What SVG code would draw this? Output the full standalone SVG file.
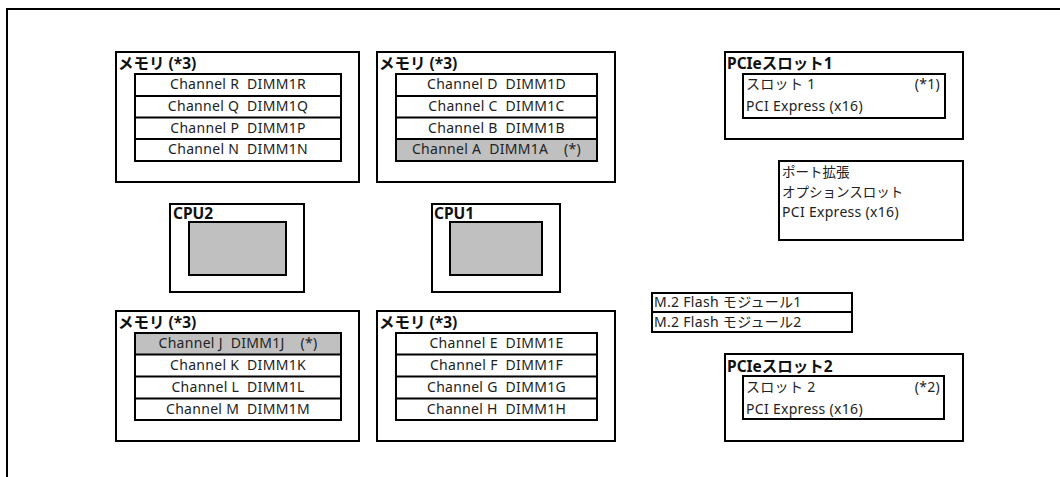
<svg xmlns="http://www.w3.org/2000/svg" width="1060" height="477" viewBox="0 0 1060 477">
  <style>
    text { font-family: "Noto Sans", "Noto Sans CJK JP", sans-serif; font-size: 14px; letter-spacing: 0.3px; fill: #222; }
    .b { font-weight: bold; font-size: 15.5px; letter-spacing: 0; fill: #111; }
    .j { font-size: 13.5px; letter-spacing: 0; }
    .c { text-anchor: middle; }
    .e { text-anchor: end; }
    .box { fill: #fff; stroke: #000; stroke-width: 2; }
    .gray { fill: #c0c0c0; stroke: #000; stroke-width: 2; }
    .ln { stroke: #000; stroke-width: 2; fill: none; }
  </style>
  <rect width="1060" height="477" fill="#fff"/>
  <path class="ln" d="M7,477 V9 H1060"/>

  <g id="mem-tl">
    <rect class="box" x="116" y="52" width="243" height="130"/>
    <text class="b" x="118" y="69">メモリ (*3)</text>
    <rect class="box" x="135" y="74" width="206" height="87"/>
    <path class="ln" d="M135,96 H341 M135,117.5 H341 M135,139 H341"/>
    <text class="c" x="238" y="89" xml:space="preserve">Channel R  DIMM1R</text>
    <text class="c" x="238" y="111" xml:space="preserve">Channel Q  DIMM1Q</text>
    <text class="c" x="238" y="132.5" xml:space="preserve">Channel P  DIMM1P</text>
    <text class="c" x="238" y="154" xml:space="preserve">Channel N  DIMM1N</text>
  </g>

  <g id="mem-tm">
    <rect class="box" x="377" y="52" width="238" height="130"/>
    <text class="b" x="379" y="69">メモリ (*3)</text>
    <rect class="box" x="396" y="74" width="201" height="87"/>
    <rect class="gray" x="396" y="139" width="201" height="22"/>
    <path class="ln" d="M396,96 H597 M396,117.5 H597"/>
    <text class="c" x="496.5" y="89" xml:space="preserve">Channel D  DIMM1D</text>
    <text class="c" x="496.5" y="111" xml:space="preserve">Channel C  DIMM1C</text>
    <text class="c" x="496.5" y="132.5" xml:space="preserve">Channel B  DIMM1B</text>
    <text class="c" x="496.5" y="154" xml:space="preserve">Channel A  DIMM1A    (*)</text>
  </g>

  <g id="cpu2">
    <rect class="box" x="170" y="204" width="134" height="88"/>
    <text class="b" x="173" y="219">CPU2</text>
    <rect class="gray" x="189" y="222" width="97" height="53"/>
  </g>

  <g id="cpu1">
    <rect class="box" x="432" y="204" width="128" height="88"/>
    <text class="b" x="434" y="219">CPU1</text>
    <rect class="gray" x="450" y="222" width="92" height="53"/>
  </g>

  <g id="mem-bl">
    <rect class="box" x="116" y="311" width="243" height="130"/>
    <text class="b" x="118" y="328">メモリ (*3)</text>
    <rect class="box" x="135" y="333" width="206" height="87"/>
    <rect class="gray" x="135" y="333" width="206" height="21.5"/>
    <path class="ln" d="M135,376.5 H341 M135,398.5 H341"/>
    <text class="c" x="238" y="348" xml:space="preserve">Channel J  DIMM1J    (*)</text>
    <text class="c" x="238" y="370" xml:space="preserve">Channel K  DIMM1K</text>
    <text class="c" x="238" y="391.5" xml:space="preserve">Channel L  DIMM1L</text>
    <text class="c" x="238" y="413.5" xml:space="preserve">Channel M  DIMM1M</text>
  </g>

  <g id="mem-bm">
    <rect class="box" x="377" y="311" width="238" height="130"/>
    <text class="b" x="379" y="328">メモリ (*3)</text>
    <rect class="box" x="396" y="333" width="201" height="87"/>
    <path class="ln" d="M396,354.5 H597 M396,376.5 H597 M396,398.5 H597"/>
    <text class="c" x="496.5" y="348" xml:space="preserve">Channel E  DIMM1E</text>
    <text class="c" x="496.5" y="370" xml:space="preserve">Channel F  DIMM1F</text>
    <text class="c" x="496.5" y="391.5" xml:space="preserve">Channel G  DIMM1G</text>
    <text class="c" x="496.5" y="413.5" xml:space="preserve">Channel H  DIMM1H</text>
  </g>

  <g id="pcie-slot1">
    <rect class="box" x="725" y="52" width="238" height="87"/>
    <text class="b" x="727" y="69">PCIeスロット1</text>
    <rect class="box" x="743" y="74" width="202" height="44"/>
    <text x="746" y="89">スロット 1</text>
    <text class="e" x="940" y="89">(*1)</text>
    <text x="746" y="111">PCI Express (x16)</text>
  </g>

  <g id="port-ext">
    <rect class="box" x="779" y="161" width="184" height="79"/>
    <text class="j" x="782" y="177">ポート拡張</text>
    <text class="j" x="782" y="197">オプションスロット</text>
    <text x="782" y="216.5">PCI Express (x16)</text>
  </g>

  <g id="m2">
    <rect class="box" x="652" y="293" width="200" height="39"/>
    <path class="ln" d="M652,312 H852"/>
    <text x="654" y="307">M.2 Flash モジュール1</text>
    <text x="654" y="326.5">M.2 Flash モジュール2</text>
  </g>

  <g id="pcie-slot2">
    <rect class="box" x="725" y="354" width="238" height="87"/>
    <text class="b" x="727" y="371.5">PCIeスロット2</text>
    <rect class="box" x="743" y="376" width="201" height="43"/>
    <text x="746" y="392">スロット 2</text>
    <text class="e" x="940" y="392">(*2)</text>
    <text x="746" y="413.5">PCI Express (x16)</text>
  </g>

  <g id="connectors"/>
</svg>
